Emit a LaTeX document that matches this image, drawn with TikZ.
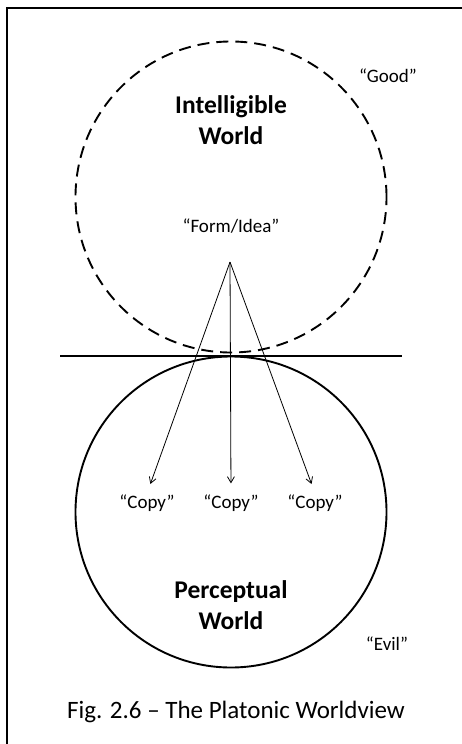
\documentclass[tikz,border=0pt]{standalone}
\usepackage{fontspec}
\setmainfont{Carlito}
\usepackage{tikz}
\usetikzlibrary{arrows.meta, positioning}

\begin{document}
\begin{tikzpicture}[
    x=1pt, y=-1pt,
    world/.style={font=\fontsize{25.5}{31}\selectfont\bfseries, align=center},
    quote/.style={font=\fontsize{19}{22}\selectfont, inner sep=1pt},
    sphere/.style={draw, line width=1.9pt, circle, minimum size=311pt, inner sep=0pt},
    conn/.style={-{Straight Barb[length=6pt, width=7pt]}, line width=0.8pt, shorten >=10pt},
]
    \useasboundingbox (0,0) rectangle (462,744);

    % Frame
    \draw[line width=2pt] (7,744) -- (7,8) -- (462,8);

    % Worlds
    \node[sphere, dash pattern=on 12pt off 7pt] (intelligible) at (231,197) {};
    \node[sphere] (perceptual) at (231,512) {};
    \coordinate (divl) at (60,356);
    \coordinate (divr) at (402,356);
    \draw[line width=1.5pt] (divl) -- (divr);

    % Labels, upper world
    \node[world] (intlabel) at (231,120) {Intelligible\\World};
    \node[quote] (good) at (388,76) {``Good''};
    \node[quote] (form) at (231,226) {``Form/Idea''};
    \coordinate (apex) at (230,262);

    % Labels, lower world
    \node[quote] (copyl) at (147,503) {``Copy''};
    \node[quote] (copym) at (231,503) {``Copy''};
    \node[quote] (copyr) at (315,503) {``Copy''};
    \node[world] (perlabel) at (231,605) {Perceptual\\World};
    \node[quote] (evil) at (387,644) {``Evil''};

    % Caption
    \node[font=\fontsize{25}{28}\selectfont] (caption) at (236,712) {Fig. 2.6 -- The Platonic Worldview};

    % Arrows
    \draw[conn] (apex) -- (copyl.north);
    \draw[conn] (apex) -- (copym.north);
    \draw[conn] (apex) -- (copyr.north);
\end{tikzpicture}
\end{document}
